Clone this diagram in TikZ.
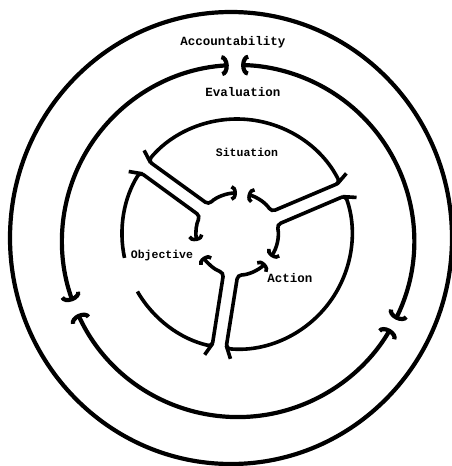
\documentclass[tikz,border=0pt]{standalone}
\usepackage{fontspec}
\usetikzlibrary{arrows.meta, calc}
\newfontfamily\labelfont{Liberation Mono}
\definecolor{inkcolor}{RGB}{0, 0, 0}
\tikzset{
  ringline/.style={line width=4.2pt, color=inkcolor},
  lobe/.style={line width=3.6pt, color=inkcolor, rounded corners=4pt},
  lbl/.style={font=\labelfont\bfseries\fontsize{12.5}{12.5}\selectfont,
    inner sep=0pt, text=inkcolor},
  lblsmall/.style={lbl, font=\labelfont\bfseries\fontsize{11.5}{11.5}\selectfont}
}

\begin{document}
\begin{tikzpicture}[x=1pt, y=1pt, >={Arc Barb[length=7pt, width=21pt]}]

  \path[use as bounding box, fill=white] (0,0) rectangle (452,-466);

  % ── Centres ─────────────────────────────────────────────────────
  \coordinate (outerc) at (231,-238);
  \coordinate (ringc) at (238,-241);
  \coordinate (hub) at (237,-234);

  % ── Outer ring ──────────────────────────────────────────────────
  \draw[ringline] (outerc) ellipse [x radius=221, y radius=226];

  % ── Evaluation ring (three arcs, tips meeting in the gaps) ──────
  \draw[ringline, <->] ($(ringc)+(93:176)$)
    arc[start angle=93, end angle=200, radius=176];
  \draw[ringline, <->] ($(ringc)+(204.5:176)$)
    arc[start angle=204.5, end angle=330, radius=176];
  \draw[ringline, <->] ($(ringc)+(333.5:176)$)
    arc[start angle=333.5, end angle=449, radius=176];

  % ── Inner lobes: hub arrow, arm side, circle arc ────────────────
  \begin{scope}[>={Arc Barb[length=5.5pt, width=16pt]}]
    % top lobe (between right arm and upper-left arm)
    \draw[lobe, <->] ($(hub)+(75:41)$) arc[start angle=75, end angle=33, radius=41]
      -- ($(hub)+(26.5:115)$) arc[start angle=26.5, end angle=140.5, radius=115]
      -- ($(hub)+(134:41)$) arc[start angle=134, end angle=90, radius=41];

    % left lobe, broken beside Objective
    \draw[lobe, <-] ($(hub)+(190:41)$) arc[start angle=190, end angle=154, radius=41]
      -- ($(hub)+(147.5:115)$) arc[start angle=147.5, end angle=192, radius=115];
    \draw[lobe, ->] ($(hub)+(210:115)$) arc[start angle=210, end angle=257.5, radius=115]
      -- ($(hub)+(251:41)$) arc[start angle=251, end angle=214, radius=41];

    % right lobe (between lower arm and right arm)
    \draw[lobe, <->] ($(hub)+(314:41)$) arc[start angle=314, end angle=271, radius=41]
      -- ($(hub)+(264.5:115)$) arc[start angle=264.5, end angle=379.5, radius=115]
      -- ($(hub)+(13:41)$) arc[start angle=13, end angle=-34, radius=41];
  \end{scope}

  % arm ends running past the circle
  \foreach \from/\to in {26.5/29, 19.5/17, 147.5/150, 140.5/138, 264.5/267, 257.5/255}
    \draw[lobe] ($(hub)+(\from:112)$) -- ($(hub)+(\to:125)$);

  % ── Labels ──────────────────────────────────────────────────────
  \node[lbl] (acct) at (233,-42) {Accountability};
  \node[lbl] (eval) at (243,-92) {Evaluation};
  \node[lblsmall] (situ) at (247,-152) {Situation};
  \node[lblsmall] (obj) at (162,-256) {Objective};
  \node[lbl] (act) at (290,-278) {Action};

\end{tikzpicture}
\end{document}
